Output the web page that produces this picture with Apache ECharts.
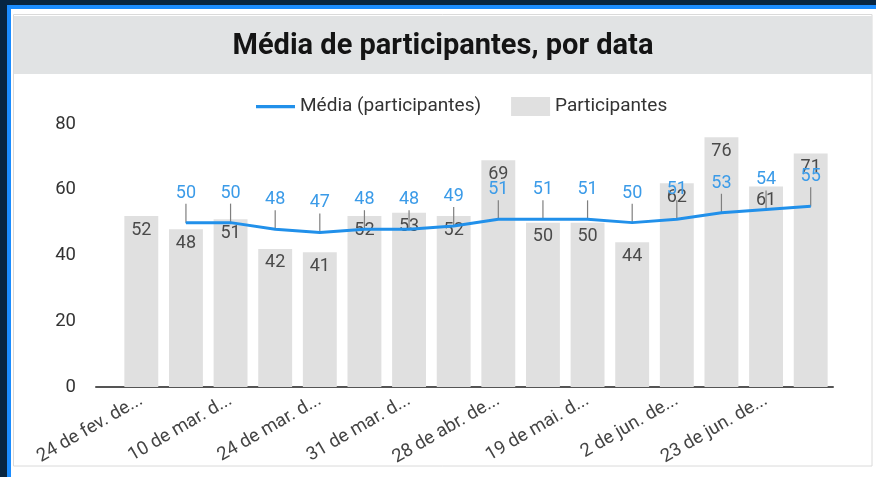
<!DOCTYPE html>
<html>
<head>
<meta charset="utf-8">
<title>Média de participantes, por data</title>
<style>
	html, body { margin: 0; padding: 0; background: #072541; }
	#main { width: 876px; height: 477px; }
</style>
</head>
<body>
<div id="main"></div>
<script src="https://cdn.jsdelivr.net/npm/echarts@6/dist/echarts.min.js"></script>
<script>
	// dados
	var datas = ['24 de fev. de 2024', '3 de mar. de 2024', '10 de mar. de 2024', '17 de mar. de 2024',
		'24 de mar. de 2024', '27 de mar. de 2024', '31 de mar. de 2024', '14 de abr. de 2024',
		'28 de abr. de 2024', '5 de mai. de 2024', '19 de mai. de 2024', '26 de mai. de 2024',
		'2 de jun. de 2024', '9 de jun. de 2024', '23 de jun. de 2024', '30 de jun. de 2024'];
	var participantes = [52, 48, 51, 42, 41, 52, 53, 52, 69, 50, 50, 44, 62, 76, 61, 71];
	var media = [null, 50, 50, 48, 47, 48, 48, 49, 51, 51, 51, 50, 51, 53, 54, 55];
	var yTicks = {min: 0, max: 80, interval: 20};

	var fonte = 'Roboto, "Noto Sans", sans-serif';
	var myChart = echarts.init(document.getElementById('main'));

	// corta o rótulo como no original: "24 de fev. de..."
	function cortaData(v) {
		var t = echarts.format.truncateText(v, 122, '18.5px Roboto', '...');
		return t.replace(/\s+\.\.\.$/, '...');
	}

	myChart.setOption({
		backgroundColor: '#072541',
		textStyle: {fontFamily: fonte},
		graphic: [
			{type: 'rect', z: -10, shape: {x: 7, y: 5, width: 869, height: 472}, style: {fill: '#1a8cff'}},
			{type: 'rect', z: -9, shape: {x: 11, y: 9, width: 865, height: 468}, style: {fill: '#ffffff'}},
			{type: 'rect', z: -8, shape: {x: 13.5, y: 14.5, width: 858.5, height: 451.5}, style: {fill: '#ffffff', stroke: '#dadada', lineWidth: 1}},
			{type: 'rect', z: -7, shape: {x: 14, y: 16, width: 858, height: 58}, style: {fill: '#e1e3e4'}},
			{type: 'text', z: 10, x: 443, y: 47, style: {
				text: 'Média de participantes, por data',
				fontFamily: fonte, fontSize: 29, fontWeight: 'bold', fill: '#141414',
				align: 'center', verticalAlign: 'middle'
			}}
		],
		legend: {
			left: 251,
			top: 92,
			itemWidth: 39,
			itemHeight: 19,
			itemGap: 30,
			textStyle: {fontSize: 19, color: '#333', fontFamily: fonte},
			data: [
				{name: 'Média (participantes)', icon: 'path://M0,0 L36,0 L36,3 L0,3 Z'},
				{name: 'Participantes', icon: 'rect'}
			]
		},
		grid: [
			{left: 119, right: 43, top: 124, bottom: 90},
			{left: 96, right: 43, top: 124, bottom: 90}
		],
		xAxis: [
			{
				type: 'category',
				gridIndex: 0,
				data: datas,
				axisLine: {show: false},
				axisTick: {show: false},
				axisLabel: {
					interval: 1,
					rotate: 30,
					margin: 12,
					fontSize: 18.5,
					color: '#444',
					formatter: cortaData
				}
			},
			{
				// só a linha do eixo, que começa junto dos rótulos do eixo y
				type: 'value',
				gridIndex: 1,
				min: 0, max: 1,
				axisLine: {show: true, lineStyle: {color: '#555', width: 2}},
				axisTick: {show: false},
				axisLabel: {show: false},
				splitLine: {show: false}
			}
		],
		yAxis: [
			{
				type: 'value',
				gridIndex: 0,
				min: yTicks.min,
				max: yTicks.max,
				interval: yTicks.interval,
				axisLine: {show: false},
				axisTick: {show: false},
				splitLine: {show: false},
				axisLabel: {fontSize: 18.5, color: '#333', margin: 43}
			},
			{
				type: 'value',
				gridIndex: 1,
				show: false
			}
		],
		series: [
			{
				name: 'Participantes',
				type: 'bar',
				data: participantes,
				barCategoryGap: '24%',
				itemStyle: {color: '#e0e0e0'},
				label: {
					show: true,
					position: 'insideTop',
					distance: 5,
					fontSize: 18,
					color: '#4a4a4a'
				},
				z: 2
			},
			{
				// linhas-guia verticais entre o rótulo e o ponto
				name: 'guia',
				type: 'custom',
				data: media.map(function (v, i) { return [i, v]; }),
				renderItem: function (params, api) {
					if (api.value(1) == null || isNaN(api.value(1))) return;
					var p = api.coord([api.value(0), api.value(1)]);
					return {
						type: 'line',
						shape: {x1: p[0], y1: p[1] - 19, x2: p[0], y2: p[1]},
						style: {stroke: '#7f7f7f', lineWidth: 1.2}
					};
				},
				silent: true,
				z: 3
			},
			{
				name: 'Média (participantes)',
				type: 'line',
				data: media,
				symbol: 'circle',
				symbolSize: 1,
				showSymbol: true,
				lineStyle: {color: '#2190ea', width: 3},
				itemStyle: {color: '#2190ea'},
				label: {
					show: true,
					position: 'top',
					distance: 20,
					fontSize: 18,
					color: '#3b9be8'
				},
				z: 4
			}
		]
	});
</script>
</body>
</html>
